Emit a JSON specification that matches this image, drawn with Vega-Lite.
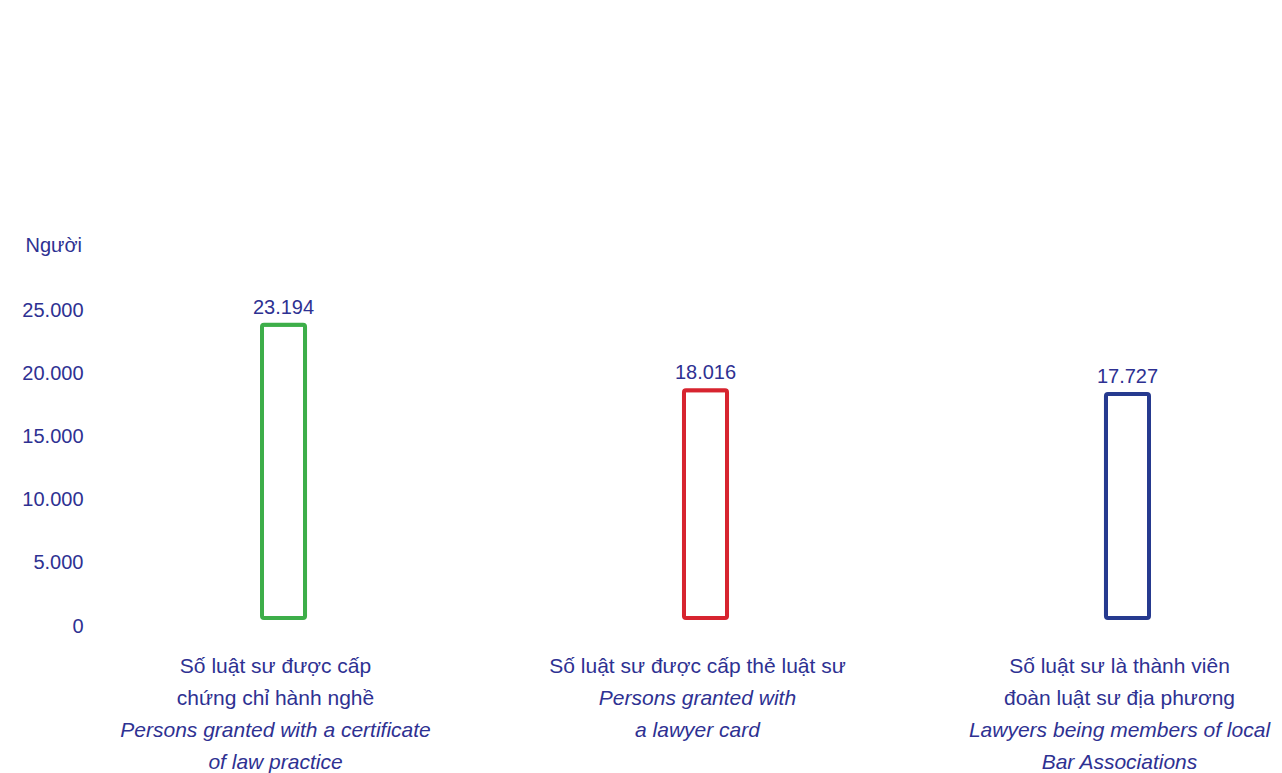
{
  "$schema": "https://vega.github.io/schema/vega-lite/v6.json",
  "width": 887,
  "height": 316,
  "autosize": "none",
  "padding": {"left": 262, "top": 302, "right": 133, "bottom": 155},
  "background": "white",
  "config": {
    "view": {"stroke": null},
    "font": "Liberation Sans",
    "locale": {"number": {"decimal": ",", "thousands": ".", "grouping": [3], "currency": ["", ""]}}
  },
  "data": {
    "values": [
      {"cat": "cert", "value": 23194, "vi": ["Số luật sư được cấp", "chứng chỉ hành nghề"], "en": ["Persons granted with a certificate", "of law practice"]},
      {"cat": "card", "value": 18016, "vi": ["Số luật sư được cấp thẻ luật sư"], "en": ["Persons granted with", "a lawyer card"]},
      {"cat": "member", "value": 17727, "vi": ["Số luật sư là thành viên", "đoàn luật sư địa phương"], "en": ["Lawyers being members of local", "Bar Associations"]}
    ]
  },
  "encoding": {
    "x": {"field": "cat", "type": "nominal", "sort": null, "scale": {"paddingInner": 0.898, "paddingOuter": 0}, "axis": null}
  },
  "layer": [
    {
      "mark": {"type": "bar", "filled": false, "fill": "white", "strokeWidth": 4, "cornerRadius": 2, "strokeJoin": "round"},
      "encoding": {
        "y": {
          "field": "value", "type": "quantitative",
          "scale": {"domain": [0, 25000], "nice": false},
          "axis": {
            "title": "Người", "titleAngle": 0, "titleAlign": "left", "titleBaseline": "alphabetic",
            "titleX": -70, "titleY": -51, "titleFontSize": 20, "titleFontWeight": "normal", "titleColor": "#2e3192",
            "domain": false, "ticks": false, "tickSize": 0, "grid": false,
            "labelPadding": 12, "offset": 167, "labelFontSize": 20, "labelColor": "#2e3192",
            "labelBaseline": "middle", "labelOffset": 8,
            "values": [0, 5000, 10000, 15000, 20000, 25000], "format": ",d"
          }
        },
        "stroke": {
          "field": "cat", "type": "nominal",
          "scale": {"domain": ["cert", "card", "member"], "range": ["#3dae49", "#d7242f", "#263a8f"]},
          "legend": null
        }
      }
    },
    {
      "mark": {"type": "text", "baseline": "alphabetic", "dy": -11, "fontSize": 20, "color": "#2e3192"},
      "encoding": {
        "y": {"field": "value", "type": "quantitative"},
        "text": {"field": "value", "type": "quantitative", "format": ",d"}
      }
    },
    {
      "mark": {"type": "text", "baseline": "top", "dy": 38, "dx": -8, "fontSize": 21, "lineHeight": 32, "color": "#2e3192"},
      "encoding": {
        "y": {"datum": 0, "type": "quantitative"},
        "text": {"field": "vi"}
      }
    },
    {
      "mark": {"type": "text", "baseline": "top", "dy": {"expr": "38 + 32 * length(datum.vi)"}, "dx": -8, "fontSize": 21, "lineHeight": 32, "fontStyle": "italic", "color": "#2e3192"},
      "encoding": {
        "y": {"datum": 0, "type": "quantitative"},
        "text": {"field": "en"}
      }
    }
  ]
}
